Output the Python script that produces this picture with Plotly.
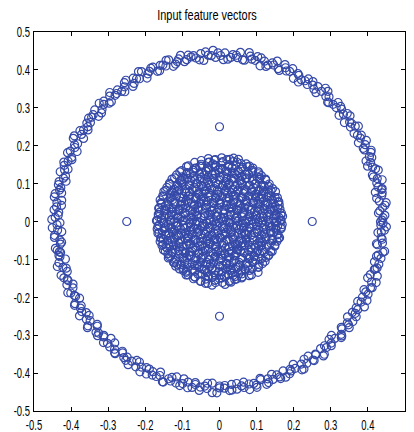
import numpy as np
import plotly.graph_objects as go

# Outer ring, read as angle (degrees) and radius -- first pass
ring_theta = [
    0.5, 2.1, 3.0, 4.8, 6.3, 7.1, 9.0, 10.4, 11.2, 13.5,
    14.9, 15.8, 17.6, 19.2, 20.1, 22.4, 23.0, 24.7, 26.5, 27.3,
    29.0, 30.8, 31.5, 33.9, 35.2, 36.0, 37.8, 39.6, 40.3, 42.0,
    43.7, 44.5, 46.8, 48.1, 49.0, 50.9, 52.6, 53.3, 55.1, 56.8,
    57.5, 59.4, 61.0, 62.2, 63.9, 65.6, 66.3, 68.0, 69.8, 70.5,
    72.4, 74.0, 75.1, 76.7, 78.5, 79.2, 81.0, 82.8, 83.6, 85.3,
    87.0, 88.1, 89.6, 91.4, 92.2, 94.0, 95.7, 96.5, 98.3, 100.0,
    100.9, 102.6, 104.4, 105.1, 106.9, 108.7, 109.4, 111.2, 112.9, 113.8,
    115.5, 117.3, 118.0, 119.8, 121.6, 122.3, 124.1, 125.8, 126.7, 128.4,
    130.2, 131.0, 132.7, 134.5, 135.3, 137.0, 138.8, 139.6, 141.4, 143.1,
    144.0, 145.7, 147.5, 148.3, 150.0, 151.8, 152.6, 154.3, 156.1, 157.0,
    158.7, 160.5, 161.3, 163.0, 164.8, 165.6, 167.4, 169.1, 170.0, 171.7,
    173.5, 174.3, 176.0, 177.8, 178.6, 180.4, 182.1, 183.0, 184.7, 186.5,
    187.3, 189.1, 190.8, 191.7, 193.4, 195.2, 196.0, 197.8, 199.5, 200.4,
    202.1, 203.9, 204.7, 206.5, 208.2, 209.1, 210.8, 212.6, 213.4, 215.2,
    216.9, 217.8, 219.5, 221.3, 222.1, 223.9, 225.6, 226.5, 228.2, 230.0,
    230.8, 232.6, 234.3, 235.2, 236.9, 238.7, 239.5, 241.3, 243.0, 243.9,
    245.6, 247.4, 248.2, 250.0, 251.7, 252.6, 254.3, 256.1, 256.9, 258.7,
    260.4, 261.3, 263.0, 264.8, 265.6, 267.4, 269.1, 270.0, 271.7, 273.5,
    274.3, 276.1, 277.8, 278.7, 280.4, 282.2, 283.0, 284.8, 286.5, 287.4,
    289.1, 290.9, 291.7, 293.5, 295.2, 296.1, 297.8, 299.6, 300.4, 302.2,
    303.9, 304.8, 306.5, 308.3, 309.1, 310.9, 312.6, 313.5, 315.2, 317.0,
    317.8, 319.6, 321.3, 322.2, 323.9, 325.7, 326.5, 328.3, 330.0, 330.9,
    332.6, 334.4, 335.2, 337.0, 338.7, 339.6, 341.3, 343.1, 343.9, 345.7,
    347.4, 348.3, 350.0, 351.8, 352.6, 354.4, 356.1, 357.0, 358.7, 359.5,
]
ring_r = [
    0.438, 0.446, 0.429, 0.441, 0.452, 0.434, 0.443, 0.427, 0.447, 0.436,
    0.440, 0.431, 0.449, 0.437, 0.425, 0.444, 0.439, 0.450, 0.433, 0.442,
    0.428, 0.445, 0.436, 0.451, 0.432, 0.440, 0.426, 0.447, 0.438, 0.443,
    0.435, 0.448, 0.430, 0.442, 0.437, 0.453, 0.428, 0.444, 0.439, 0.432,
    0.446, 0.434, 0.441, 0.427, 0.449, 0.436, 0.443, 0.430, 0.451, 0.438,
    0.433, 0.440, 0.425, 0.447, 0.437, 0.444, 0.431, 0.450, 0.435, 0.442,
    0.429, 0.445, 0.438, 0.433, 0.452, 0.440, 0.427, 0.446, 0.436, 0.441,
    0.447, 0.432, 0.443, 0.437, 0.428, 0.449, 0.435, 0.442, 0.430, 0.445,
    0.439, 0.426, 0.448, 0.434, 0.444, 0.431, 0.450, 0.438, 0.427, 0.443,
    0.436, 0.451, 0.430, 0.445, 0.439, 0.433, 0.447, 0.428, 0.441, 0.435,
    0.442, 0.429, 0.446, 0.437, 0.452, 0.434, 0.440, 0.426, 0.448, 0.433,
    0.438, 0.444, 0.431, 0.449, 0.436, 0.427, 0.445, 0.439, 0.432, 0.450,
    0.441, 0.428, 0.447, 0.435, 0.443, 0.430, 0.451, 0.437, 0.446, 0.433,
    0.429, 0.448, 0.436, 0.442, 0.427, 0.453, 0.439, 0.431, 0.445, 0.438,
    0.444, 0.432, 0.450, 0.437, 0.428, 0.446, 0.434, 0.441, 0.452, 0.430,
    0.436, 0.449, 0.427, 0.443, 0.439, 0.433, 0.447, 0.425, 0.444, 0.440,
    0.447, 0.431, 0.442, 0.436, 0.451, 0.429, 0.445, 0.438, 0.433, 0.448,
    0.435, 0.443, 0.428, 0.450, 0.437, 0.441, 0.426, 0.446, 0.439, 0.432,
    0.444, 0.430, 0.449, 0.436, 0.442, 0.427, 0.452, 0.434, 0.440, 0.447,
    0.431, 0.445, 0.438, 0.429, 0.451, 0.437, 0.443, 0.428, 0.448, 0.435,
    0.441, 0.433, 0.446, 0.430, 0.444, 0.439, 0.426, 0.450, 0.436, 0.442,
    0.428, 0.447, 0.435, 0.452, 0.432, 0.440, 0.445, 0.429, 0.438, 0.449,
    0.443, 0.431, 0.448, 0.436, 0.427, 0.446, 0.439, 0.433, 0.451, 0.437,
    0.434, 0.444, 0.429, 0.447, 0.440, 0.426, 0.449, 0.436, 0.442, 0.431,
    0.446, 0.437, 0.452, 0.430, 0.443, 0.438, 0.428, 0.445, 0.435, 0.441,
]

# Outer ring -- second pass of points
ring2_theta = [
    1.3, 3.7, 5.5, 8.2, 9.8, 12.0, 14.1, 16.6, 18.3, 20.9,
    22.0, 24.1, 25.8, 28.4, 30.1, 32.7, 34.5, 36.8, 38.4, 41.0,
    42.9, 45.3, 47.2, 49.6, 51.3, 53.9, 55.7, 58.2, 60.0, 61.6,
    64.5, 66.9, 68.6, 71.2, 73.0, 75.4, 77.3, 79.8, 81.7, 84.1,
    86.0, 88.6, 90.5, 92.9, 94.8, 97.2, 99.1, 101.7, 103.5, 105.9,
    107.8, 110.3, 112.1, 114.6, 116.4, 118.9, 120.7, 123.2, 125.0, 127.5,
    129.4, 131.8, 133.6, 136.1, 138.0, 140.4, 142.3, 144.8, 146.6, 149.1,
    150.9, 153.4, 155.2, 157.7, 159.5, 162.0, 163.9, 166.3, 168.2, 170.6,
    172.5, 175.0, 176.8, 179.3, 181.1, 183.6, 185.4, 187.9, 189.8, 192.2,
    194.1, 196.6, 198.4, 200.9, 202.7, 205.2, 207.0, 209.5, 211.4, 213.8,
    215.7, 218.2, 220.0, 222.5, 224.3, 226.8, 228.6, 231.1, 233.0, 235.4,
    237.3, 239.8, 241.6, 244.1, 245.9, 248.4, 250.3, 252.7, 254.6, 257.0,
    258.9, 261.4, 263.2, 265.7, 267.5, 270.0, 271.9, 274.3, 276.2, 278.6,
    280.5, 283.0, 284.9, 287.3, 289.2, 291.6, 293.5, 296.0, 297.8, 300.3,
    302.1, 304.6, 306.4, 308.9, 310.8, 313.2, 315.1, 317.5, 319.4, 321.9,
    323.7, 326.2, 328.0, 330.5, 332.3, 334.8, 336.7, 339.1, 341.0, 343.4,
    345.3, 347.8, 349.6, 352.1, 353.9, 356.4, 358.2, 359.9, 10.9, 190.5,
]
ring2_r = [
    0.441, 0.433, 0.448, 0.428, 0.445, 0.437, 0.452, 0.430, 0.443, 0.436,
    0.426, 0.447, 0.434, 0.450, 0.439, 0.431, 0.444, 0.438, 0.449, 0.427,
    0.446, 0.435, 0.429, 0.451, 0.440, 0.432, 0.447, 0.437, 0.425, 0.444,
    0.439, 0.450, 0.433, 0.442, 0.428, 0.446, 0.436, 0.453, 0.431, 0.441,
    0.434, 0.427, 0.445, 0.438, 0.449, 0.430, 0.443, 0.436, 0.451, 0.432,
    0.448, 0.440, 0.429, 0.445, 0.435, 0.452, 0.438, 0.426, 0.447, 0.433,
    0.437, 0.444, 0.431, 0.450, 0.428, 0.442, 0.446, 0.434, 0.439, 0.427,
    0.451, 0.436, 0.443, 0.430, 0.448, 0.439, 0.432, 0.445, 0.437, 0.449,
    0.429, 0.441, 0.434, 0.452, 0.438, 0.426, 0.447, 0.433, 0.444, 0.440,
    0.446, 0.431, 0.450, 0.437, 0.428, 0.443, 0.435, 0.449, 0.439, 0.432,
    0.442, 0.453, 0.430, 0.446, 0.436, 0.441, 0.427, 0.448, 0.434, 0.445,
    0.438, 0.429, 0.451, 0.433, 0.444, 0.437, 0.450, 0.431, 0.442, 0.426,
    0.447, 0.435, 0.440, 0.428, 0.452, 0.439, 0.433, 0.446, 0.430, 0.443,
    0.436, 0.449, 0.432, 0.445, 0.427, 0.441, 0.448, 0.434, 0.438, 0.451,
    0.429, 0.444, 0.437, 0.450, 0.433, 0.440, 0.426, 0.447, 0.435, 0.442,
    0.446, 0.431, 0.439, 0.428, 0.449, 0.436, 0.443, 0.452, 0.430, 0.438,
    0.444, 0.433, 0.448, 0.427, 0.441, 0.437, 0.450, 0.434, 0.445, 0.439,
]

# Inner disk points, one line per band of y -- first pass
disk_x = [
    -0.038, -0.02, -0.011, 0.015, 0.031,
    -0.07, -0.052, -0.037, -0.012, -0.001, 0.026, 0.041, 0.06,
    -0.09, -0.067, -0.058, -0.03, -0.019, 0.004, 0.013, 0.037, 0.052, 0.061, 0.086,
    -0.098, -0.089, -0.066, -0.041, -0.033, -0.011, 0.006, 0.029, 0.035, 0.058, 0.081, 0.104,
    -0.118, -0.097, -0.086, -0.061, -0.047, -0.026, -0.02, 0.009, 0.021, 0.044, 0.068, 0.077, 0.105,
    -0.124, -0.115, -0.093, -0.074, -0.059, -0.035, -0.024, -0.001, 0.018, 0.027, 0.053, 0.072, 0.09, 0.116,
    -0.138, -0.12, -0.097, -0.088, -0.066, -0.05, -0.027, -0.013, 0.002, 0.027, 0.04, 0.062, 0.081, 0.097, 0.125,
    -0.139, -0.131, -0.109, -0.093, -0.076, -0.055, -0.044, -0.017, 0.003, 0.014, 0.039, 0.047, 0.074, 0.093, 0.108, 0.133,
    -0.151, -0.127, -0.119, -0.099, -0.081, -0.066, -0.045, -0.03, -0.009, 0.006, 0.025, 0.046, 0.057, 0.078, 0.1, 0.115, 0.142,
    -0.155, -0.143, -0.124, -0.108, -0.089, -0.072, -0.053, -0.039, -0.017, -0.008, 0.016, 0.035, 0.049, 0.069, 0.086, 0.106, 0.127, 0.149,
    -0.16, -0.137, -0.128, -0.11, -0.086, -0.077, -0.059, -0.034, -0.025, -0.006, 0.011, 0.026, 0.048, 0.063, 0.081, 0.102, 0.115, 0.138, 0.155,
    -0.158, -0.151, -0.133, -0.116, -0.092, -0.083, -0.065, -0.046, -0.031, -0.013, 0.003, 0.021, 0.035, 0.058, 0.072, 0.09, 0.111, 0.124, 0.141, 0.162,
    -0.166, -0.145, -0.137, -0.114, -0.103, -0.085, -0.061, -0.05, -0.027, -0.015, 0.008, 0.017, 0.041, 0.06, 0.071, 0.094, 0.113, 0.12, 0.146, 0.158,
    -0.168, -0.154, -0.129, -0.121, -0.104, -0.08, -0.07, -0.054, -0.036, -0.011, -0.004, 0.022, 0.032, 0.053, 0.076, 0.083, 0.106, 0.125, 0.137, 0.152, 0.166,
    -0.163, -0.146, -0.138, -0.115, -0.097, -0.088, -0.064, -0.047, -0.03, -0.019, 0.007, 0.015, 0.038, 0.056, 0.067, 0.091, 0.1, 0.122, 0.14, 0.157, 0.169,
    -0.17, -0.15, -0.132, -0.123, -0.1, -0.079, -0.072, -0.055, -0.033, -0.015, 0.0, 0.018, 0.029, 0.05, 0.069, 0.088, 0.105, 0.117, 0.134, 0.154, 0.164,
    -0.165, -0.157, -0.135, -0.112, -0.104, -0.087, -0.062, -0.05, -0.025, -0.009, 0.004, 0.024, 0.043, 0.061, 0.074, 0.097, 0.11, 0.128, 0.145, 0.16, 0.17,
    -0.162, -0.142, -0.127, -0.118, -0.093, -0.074, -0.066, -0.04, -0.029, -0.006, 0.011, 0.03, 0.039, 0.063, 0.081, 0.094, 0.118, 0.131, 0.152, 0.167,
    -0.164, -0.148, -0.136, -0.11, -0.099, -0.081, -0.058, -0.046, -0.02, -0.014, 0.012, 0.026, 0.047, 0.058, 0.084, 0.1, 0.109, 0.137, 0.147, 0.163,
    -0.157, -0.145, -0.12, -0.105, -0.093, -0.068, -0.055, -0.035, -0.023, 0.001, 0.018, 0.031, 0.054, 0.069, 0.079, 0.104, 0.123, 0.131, 0.15, 0.161,
    -0.16, -0.14, -0.126, -0.102, -0.09, -0.076, -0.049, -0.042, -0.017, -0.001, 0.021, 0.038, 0.047, 0.072, 0.092, 0.108, 0.119, 0.143, 0.158,
    -0.153, -0.131, -0.122, -0.107, -0.084, -0.063, -0.055, -0.031, -0.01, 0.001, 0.025, 0.037, 0.059, 0.08, 0.088, 0.113, 0.127, 0.139, 0.156,
    -0.15, -0.133, -0.115, -0.09, -0.081, -0.058, -0.04, -0.028, -0.005, 0.014, 0.022, 0.048, 0.064, 0.087, 0.098, 0.118, 0.134, 0.151,
    -0.142, -0.122, -0.111, -0.091, -0.067, -0.061, -0.036, -0.014, -0.006, 0.02, 0.036, 0.055, 0.069, 0.092, 0.109, 0.121, 0.143,
    -0.135, -0.113, -0.102, -0.083, -0.06, -0.049, -0.029, -0.004, 0.01, 0.027, 0.048, 0.059, 0.082, 0.097, 0.118, 0.134,
    -0.128, -0.106, -0.093, -0.077, -0.053, -0.041, -0.018, 0.0, 0.017, 0.032, 0.057, 0.07, 0.088, 0.108, 0.125,
    -0.116, -0.1, -0.079, -0.069, -0.042, -0.031, -0.011, 0.011, 0.02, 0.046, 0.061, 0.079, 0.101, 0.113,
    -0.102, -0.087, -0.071, -0.048, -0.036, -0.012, -0.003, 0.022, 0.04, 0.05, 0.075, 0.089, 0.105,
    -0.089, -0.063, -0.053, -0.032, -0.013, 0.002, 0.024, 0.034, 0.058, 0.075, 0.09,
    -0.067, -0.049, -0.027, -0.018, 0.008, 0.025, 0.037, 0.058, 0.072,
    -0.03, -0.014, 0.006, 0.02, 0.038, 0.051,
]
disk_y = [
    -0.163, -0.168, -0.161, -0.166, -0.16,
    -0.151, -0.157, -0.152, -0.155, -0.15, -0.158, -0.153, -0.149,
    -0.141, -0.146, -0.139, -0.144, -0.147, -0.14, -0.145, -0.142, -0.138, -0.146, -0.141,
    -0.129, -0.134, -0.131, -0.127, -0.135, -0.13, -0.133, -0.128, -0.136, -0.131, -0.129, -0.134,
    -0.118, -0.124, -0.12, -0.117, -0.125, -0.119, -0.122, -0.116, -0.123, -0.12, -0.125, -0.118, -0.121,
    -0.108, -0.113, -0.106, -0.111, -0.114, -0.107, -0.112, -0.105, -0.11, -0.114, -0.108, -0.112, -0.106, -0.111,
    -0.096, -0.102, -0.098, -0.095, -0.103, -0.097, -0.101, -0.094, -0.1, -0.097, -0.103, -0.096, -0.099, -0.102, -0.095,
    -0.085, -0.091, -0.087, -0.083, -0.09, -0.086, -0.092, -0.084, -0.089, -0.086, -0.091, -0.083, -0.088, -0.092, -0.085, -0.089,
    -0.075, -0.08, -0.074, -0.078, -0.081, -0.076, -0.079, -0.073, -0.08, -0.077, -0.082, -0.074, -0.078, -0.075, -0.081, -0.076, -0.079,
    -0.063, -0.069, -0.064, -0.067, -0.062, -0.07, -0.065, -0.068, -0.063, -0.066, -0.07, -0.064, -0.067, -0.062, -0.069, -0.065, -0.068, -0.063,
    -0.053, -0.058, -0.054, -0.057, -0.052, -0.059, -0.055, -0.051, -0.058, -0.054, -0.057, -0.052, -0.059, -0.056, -0.053, -0.058, -0.054, -0.057, -0.052,
    -0.042, -0.047, -0.043, -0.04, -0.046, -0.041, -0.048, -0.044, -0.04, -0.046, -0.042, -0.047, -0.041, -0.045, -0.049, -0.043, -0.046, -0.041, -0.047, -0.043,
    -0.031, -0.036, -0.03, -0.035, -0.032, -0.037, -0.03, -0.034, -0.038, -0.031, -0.035, -0.029, -0.036, -0.032, -0.034, -0.03, -0.037, -0.033, -0.029, -0.035,
    -0.02, -0.025, -0.019, -0.024, -0.021, -0.026, -0.018, -0.023, -0.027, -0.02, -0.024, -0.019, -0.025, -0.021, -0.026, -0.018, -0.023, -0.02, -0.025, -0.022, -0.019,
    -0.009, -0.014, -0.008, -0.013, -0.01, -0.015, -0.007, -0.012, -0.016, -0.009, -0.013, -0.008, -0.014, -0.01, -0.015, -0.007, -0.012, -0.009, -0.014, -0.011, -0.008,
    0.002, -0.003, 0.003, -0.002, 0.001, -0.004, 0.004, -0.001, -0.005, 0.002, -0.002, 0.003, -0.003, 0.001, -0.004, 0.004, -0.001, 0.002, -0.003, 0.0, 0.003,
    0.013, 0.008, 0.014, 0.009, 0.012, 0.007, 0.015, 0.01, 0.006, 0.013, 0.009, 0.014, 0.008, 0.012, 0.007, 0.015, 0.01, 0.013, 0.008, 0.011, 0.014,
    0.024, 0.019, 0.025, 0.02, 0.023, 0.018, 0.026, 0.021, 0.017, 0.024, 0.02, 0.025, 0.019, 0.023, 0.018, 0.026, 0.021, 0.024, 0.019, 0.022,
    0.035, 0.03, 0.036, 0.031, 0.034, 0.029, 0.037, 0.032, 0.028, 0.035, 0.031, 0.036, 0.03, 0.034, 0.029, 0.037, 0.032, 0.035, 0.03, 0.033,
    0.046, 0.041, 0.047, 0.042, 0.045, 0.04, 0.048, 0.043, 0.039, 0.046, 0.042, 0.047, 0.041, 0.045, 0.04, 0.048, 0.043, 0.046, 0.041, 0.044,
    0.057, 0.052, 0.058, 0.053, 0.056, 0.051, 0.059, 0.054, 0.05, 0.057, 0.053, 0.058, 0.052, 0.056, 0.051, 0.059, 0.054, 0.057, 0.052,
    0.068, 0.063, 0.069, 0.064, 0.067, 0.062, 0.07, 0.065, 0.061, 0.068, 0.064, 0.069, 0.063, 0.067, 0.062, 0.07, 0.065, 0.068, 0.063,
    0.079, 0.074, 0.08, 0.075, 0.078, 0.073, 0.081, 0.076, 0.072, 0.079, 0.075, 0.08, 0.074, 0.078, 0.073, 0.081, 0.076, 0.079,
    0.09, 0.085, 0.091, 0.086, 0.089, 0.084, 0.092, 0.087, 0.083, 0.09, 0.086, 0.091, 0.085, 0.089, 0.084, 0.092, 0.087,
    0.101, 0.096, 0.102, 0.097, 0.1, 0.095, 0.103, 0.098, 0.094, 0.101, 0.097, 0.102, 0.096, 0.1, 0.095, 0.099,
    0.112, 0.107, 0.113, 0.108, 0.111, 0.106, 0.114, 0.109, 0.105, 0.112, 0.108, 0.113, 0.107, 0.111, 0.109,
    0.123, 0.118, 0.124, 0.119, 0.122, 0.117, 0.125, 0.12, 0.116, 0.123, 0.119, 0.124, 0.118, 0.121,
    0.134, 0.129, 0.135, 0.13, 0.133, 0.128, 0.136, 0.131, 0.127, 0.134, 0.13, 0.135, 0.131,
    0.145, 0.14, 0.146, 0.141, 0.144, 0.139, 0.147, 0.142, 0.138, 0.145, 0.141,
    0.156, 0.151, 0.157, 0.152, 0.155, 0.15, 0.158, 0.153, 0.152,
    0.166, 0.162, 0.168, 0.163, 0.167, 0.164,
]

# Inner disk points -- second pass
disk2_x = [
    -0.05, -0.032, -0.012, 0.008, 0.027, 0.046,
    -0.085, -0.066, -0.048, -0.03, -0.011, 0.006, 0.024, 0.043, 0.061, 0.08,
    -0.108, -0.09, -0.072, -0.055, -0.037, -0.02, -0.002, 0.016, 0.033, 0.051, 0.07, 0.088, 0.105,
    -0.122, -0.104, -0.087, -0.068, -0.051, -0.034, -0.016, 0.001, 0.019, 0.037, 0.054, 0.072, 0.09, 0.107, 0.123,
    -0.135, -0.117, -0.099, -0.082, -0.064, -0.046, -0.029, -0.011, 0.007, 0.024, 0.042, 0.06, 0.078, 0.095, 0.113, 0.131,
    -0.146, -0.128, -0.11, -0.092, -0.075, -0.057, -0.039, -0.022, -0.004, 0.014, 0.031, 0.049, 0.067, 0.085, 0.103, 0.12, 0.138,
    -0.152, -0.134, -0.117, -0.099, -0.081, -0.064, -0.046, -0.028, -0.011, 0.007, 0.025, 0.042, 0.06, 0.078, 0.096, 0.113, 0.131, 0.149,
    -0.158, -0.14, -0.122, -0.105, -0.087, -0.069, -0.052, -0.034, -0.016, 0.001, 0.019, 0.037, 0.054, 0.072, 0.09, 0.107, 0.125, 0.143, 0.159,
    -0.163, -0.145, -0.127, -0.11, -0.092, -0.074, -0.057, -0.039, -0.021, -0.004, 0.014, 0.032, 0.049, 0.067, 0.085, 0.102, 0.12, 0.138, 0.155,
    -0.166, -0.148, -0.131, -0.113, -0.095, -0.078, -0.06, -0.042, -0.025, -0.007, 0.011, 0.028, 0.046, 0.064, 0.081, 0.099, 0.117, 0.134, 0.152, 0.167,
    -0.168, -0.15, -0.133, -0.115, -0.097, -0.08, -0.062, -0.044, -0.027, -0.009, 0.009, 0.026, 0.044, 0.062, 0.079, 0.097, 0.115, 0.132, 0.15, 0.166,
    -0.165, -0.147, -0.13, -0.112, -0.094, -0.077, -0.059, -0.041, -0.024, -0.006, 0.012, 0.029, 0.047, 0.065, 0.082, 0.1, 0.118, 0.135, 0.153, 0.166,
    -0.162, -0.144, -0.126, -0.109, -0.091, -0.073, -0.056, -0.038, -0.02, -0.003, 0.015, 0.033, 0.05, 0.068, 0.086, 0.103, 0.121, 0.139, 0.157,
    -0.157, -0.139, -0.121, -0.104, -0.086, -0.068, -0.051, -0.033, -0.015, 0.002, 0.02, 0.038, 0.055, 0.073, 0.091, 0.108, 0.126, 0.144, 0.16,
    -0.151, -0.133, -0.116, -0.098, -0.08, -0.063, -0.045, -0.027, -0.01, 0.008, 0.026, 0.043, 0.061, 0.079, 0.097, 0.114, 0.132, 0.15,
    -0.145, -0.127, -0.109, -0.091, -0.074, -0.056, -0.038, -0.021, -0.003, 0.015, 0.032, 0.05, 0.068, 0.086, 0.104, 0.121, 0.139,
    -0.134, -0.116, -0.098, -0.081, -0.063, -0.045, -0.028, -0.01, 0.008, 0.025, 0.043, 0.061, 0.079, 0.096, 0.114, 0.132,
    -0.121, -0.103, -0.086, -0.067, -0.05, -0.033, -0.015, 0.002, 0.02, 0.038, 0.055, 0.073, 0.091, 0.108, 0.124,
    -0.107, -0.089, -0.071, -0.054, -0.036, -0.019, -0.001, 0.017, 0.034, 0.052, 0.071, 0.089, 0.106,
    -0.084, -0.065, -0.047, -0.029, -0.01, 0.007, 0.025, 0.044, 0.062, 0.081,
    -0.049, -0.031, -0.011, 0.009, 0.028, 0.047,
]
disk2_y = [
    -0.158, -0.163, -0.155, -0.161, -0.157, -0.152,
    -0.141, -0.147, -0.139, -0.146, -0.142, -0.149, -0.14, -0.145, -0.138, -0.143,
    -0.125, -0.131, -0.127, -0.122, -0.13, -0.126, -0.133, -0.124, -0.129, -0.121, -0.128, -0.125, -0.12,
    -0.108, -0.114, -0.11, -0.116, -0.107, -0.113, -0.109, -0.117, -0.111, -0.106, -0.115, -0.11, -0.108, -0.113, -0.105,
    -0.093, -0.099, -0.094, -0.09, -0.098, -0.095, -0.1, -0.092, -0.097, -0.094, -0.09, -0.099, -0.096, -0.092, -0.098, -0.091,
    -0.078, -0.083, -0.077, -0.082, -0.079, -0.084, -0.076, -0.081, -0.078, -0.085, -0.079, -0.075, -0.083, -0.08, -0.077, -0.082, -0.079,
    -0.061, -0.067, -0.062, -0.066, -0.06, -0.068, -0.063, -0.059, -0.066, -0.062, -0.067, -0.06, -0.065, -0.061, -0.068, -0.063, -0.06, -0.065,
    -0.045, -0.051, -0.047, -0.052, -0.044, -0.049, -0.053, -0.046, -0.05, -0.044, -0.051, -0.047, -0.052, -0.045, -0.049, -0.053, -0.046, -0.05, -0.044,
    -0.03, -0.035, -0.029, -0.036, -0.031, -0.034, -0.028, -0.033, -0.037, -0.03, -0.034, -0.029, -0.035, -0.031, -0.036, -0.028, -0.033, -0.03, -0.035,
    -0.013, -0.019, -0.015, -0.011, -0.018, -0.014, -0.02, -0.013, -0.017, -0.012, -0.019, -0.015, -0.011, -0.018, -0.014, -0.02, -0.016, -0.012, -0.018, -0.015,
    0.003, -0.004, 0.002, -0.002, 0.004, -0.003, 0.001, -0.005, 0.003, -0.001, 0.004, -0.003, 0.002, -0.004, 0.001, 0.005, -0.002, 0.003, -0.003, 0.002,
    0.019, 0.013, 0.018, 0.014, 0.02, 0.012, 0.017, 0.013, 0.019, 0.015, 0.011, 0.018, 0.014, 0.02, 0.013, 0.017, 0.012, 0.019, 0.014, 0.017,
    0.035, 0.029, 0.034, 0.03, 0.036, 0.028, 0.033, 0.037, 0.031, 0.034, 0.029, 0.035, 0.03, 0.036, 0.032, 0.028, 0.034, 0.031, 0.035,
    0.05, 0.045, 0.051, 0.046, 0.052, 0.044, 0.049, 0.053, 0.047, 0.05, 0.044, 0.051, 0.046, 0.052, 0.048, 0.045, 0.05, 0.047, 0.052,
    0.066, 0.061, 0.067, 0.062, 0.068, 0.06, 0.065, 0.069, 0.063, 0.066, 0.06, 0.067, 0.062, 0.068, 0.064, 0.061, 0.066, 0.063,
    0.082, 0.077, 0.083, 0.078, 0.084, 0.076, 0.081, 0.085, 0.079, 0.082, 0.076, 0.083, 0.078, 0.084, 0.08, 0.077, 0.082,
    0.098, 0.093, 0.099, 0.094, 0.1, 0.092, 0.097, 0.101, 0.095, 0.098, 0.092, 0.099, 0.094, 0.1, 0.096, 0.093,
    0.115, 0.109, 0.114, 0.11, 0.116, 0.108, 0.113, 0.117, 0.111, 0.114, 0.108, 0.115, 0.11, 0.116, 0.112,
    0.131, 0.125, 0.13, 0.126, 0.132, 0.124, 0.129, 0.133, 0.127, 0.13, 0.124, 0.131, 0.126,
    0.147, 0.141, 0.146, 0.142, 0.148, 0.14, 0.145, 0.149, 0.143, 0.146,
    0.161, 0.156, 0.163, 0.158, 0.164, 0.157,
]

# Four isolated points
iso_x = [0.0, 0.0, -0.25, 0.25]
iso_y = [0.25, -0.25, 0.0, 0.0]

tick_vals = [-0.5, -0.4, -0.3, -0.2, -0.1, 0, 0.1, 0.2, 0.3, 0.4, 0.5]
tick_text = ["-0.5", "-0.4", "-0.3", "-0.2", "-0.1", "0", "0.1", "0.2", "0.3", "0.4", "0.5"]
title_text = "Input feature vectors"


def polar_to_xy(theta_deg, radius):
    n = min(len(theta_deg), len(radius))
    th = np.deg2rad(np.array(theta_deg[:n]))
    rr = np.array(radius[:n])
    return (rr * np.cos(th)).tolist(), (rr * np.sin(th)).tolist()


r1x, r1y = polar_to_xy(ring_theta, ring_r)
r2x, r2y = polar_to_xy(ring2_theta, ring2_r)
nd = min(len(disk_x), len(disk_y))
nd2 = min(len(disk2_x), len(disk2_y))

all_x = r1x + r2x + disk_x[:nd] + disk2_x[:nd2] + iso_x
all_y = r1y + r2y + disk_y[:nd] + disk2_y[:nd2] + iso_y

color = "#3549a8"
font_family = "Liberation Sans, Arial, Helvetica, sans-serif"

fig = go.Figure()
fig.add_trace(go.Scatter(
    x=all_x, y=all_y, mode="markers",
    marker=dict(symbol="circle-open", size=8, color=color, line=dict(width=1.2, color=color)),
    showlegend=False, hoverinfo="skip",
))

axis_common = dict(
    range=[-0.5, 0.5], tickmode="array", tickvals=tick_vals, ticktext=tick_text,
    ticks="inside", ticklen=4, tickcolor="black", tickwidth=1,
    showline=True, linecolor="black", linewidth=1, mirror="ticks",
    showgrid=False, zeroline=False, automargin=False,
    tickfont=dict(family=font_family, size=15, color="black"),
    ticklabelstandoff=0,
)
fig.update_xaxes(**axis_common)
fig.update_yaxes(**axis_common)

fig.update_layout(
    width=414, height=432,
    margin=dict(l=34, r=9, t=32, b=21),
    paper_bgcolor="white", plot_bgcolor="white",
    title=dict(text=title_text, x=0.5, xanchor="center", y=0.965, yanchor="middle",
               font=dict(family=font_family, size=14, color="black"), automargin=False),
)

# Remove the page margin, and condense label glyphs like the narrow face in the reference
post_js = """
(function(){
  document.body.style.margin = '0';
  document.body.style.padding = '0';
  var gd = document.getElementById('{plot_id}');
  function squeeze(sel, f){
    gd.querySelectorAll(sel).forEach(function(t){
      var w = t.getComputedTextLength();
      if (w > 0) {
        t.setAttribute('textLength', (w * f).toFixed(2));
        t.setAttribute('lengthAdjust', 'spacingAndGlyphs');
      }
    });
  }
  squeeze('.xtick text, .ytick text', 0.63);
  squeeze('.gtitle', 0.78);
})();
"""

fig.write_html("out.html", post_script=post_js, config={"displayModeBar": False})
